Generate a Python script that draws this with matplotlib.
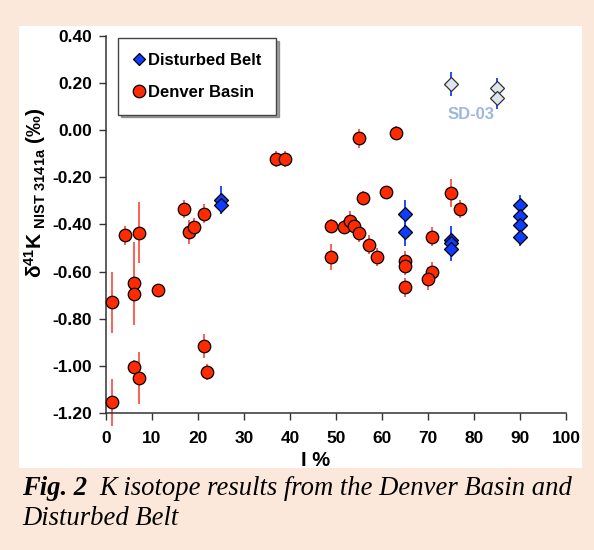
import numpy as np
import matplotlib
matplotlib.use("Agg")
import matplotlib.pyplot as plt

# ---- data ----
# Denver Basin samples: I %, d41K, 2sd
db_x = [1.2, 1.2, 4.1, 7.2, 6.1, 6.1, 11.2, 6.1, 7.2, 17.0, 18.1, 19.2, 21.2, 21.2, 22.0,
        37.0, 39.0, 48.9, 48.9, 51.7, 53.0, 54.0, 55.1, 57.1, 59.0, 55.0, 63.0, 55.9,
        60.9, 65.0, 65.0, 65.0, 70.9, 70.9, 69.9, 74.9, 77.0]
db_y = [-0.73, -1.155, -0.445, -0.435, -0.65, -0.695, -0.677, -1.003, -1.05, -0.334, -0.433,
        -0.412, -0.355, -0.915, -1.026, -0.122, -0.122, -0.405, -0.538, -0.412, -0.384,
        -0.405, -0.435, -0.486, -0.538, -0.034, -0.010, -0.286, -0.263, -0.554, -0.576,
        -0.667, -0.452, -0.600, -0.630, -0.265, -0.334]
db_err = [0.13, 0.10, 0.04, 0.13, 0.175, 0.04, 0.02, 0.03, 0.11, 0.04, 0.05, 0.04, 0.04,
          0.05, 0.035, 0.035, 0.035, 0.03, 0.055, 0.03, 0.04, 0.03, 0.04, 0.04, 0.04,
          0.04, 0.03, 0.03, 0.02, 0.04, 0.04, 0.04, 0.04, 0.04, 0.05, 0.06, 0.04]

# Disturbed Belt samples
dbelt_x = [25, 25, 65, 65, 75, 75, 75, 90, 90, 90, 90]
dbelt_y = [-0.296, -0.317, -0.356, -0.43, -0.466, -0.48, -0.505, -0.317, -0.364, -0.402, -0.452]
dbelt_err = [0.06, 0.04, 0.06, 0.06, 0.06, 0.05, 0.05, 0.04, 0.04, 0.04, 0.04]

# SD-03 (Disturbed Belt, shown open)
sd_x = [75, 85, 85]
sd_y = [0.195, 0.178, 0.135]
sd_err = [0.05, 0.045, 0.045]

x_ticks = list(range(0, 101, 10))
y_ticks = [0.40, 0.20, 0.00, -0.20, -0.40, -0.60, -0.80, -1.00, -1.20]

# ---- style ----
plt.rcParams['font.family'] = ['Liberation Sans', 'DejaVu Sans']
plt.rcParams['mathtext.fontset'] = 'custom'
plt.rcParams['mathtext.bf'] = 'Liberation Sans:bold'
plt.rcParams['mathtext.rm'] = 'Liberation Sans:bold'

peach = '#fce8da'
red = '#ff2a00'
red_bar = '#ff5544'
blue = '#0f3dff'

fig = plt.figure(figsize=(5.94, 5.5), dpi=100, facecolor=peach)

# white panel behind the chart
bg = fig.add_axes([0.032, 0.149, 0.948, 0.804], zorder=-5)
bg.set_facecolor('white')
bg.set_xticks([])
bg.set_yticks([])
for s in bg.spines.values():
    s.set_visible(False)

ax = fig.add_axes([0.1785, 0.2491, 0.7744, 0.6855])
ax.set_facecolor('none')

ax.errorbar(db_x, db_y, yerr=db_err, fmt='none', ecolor=red_bar, elinewidth=1.3,
            capsize=0, zorder=2, clip_on=False)
ax.plot(db_x, db_y, 'o', ms=9, mfc=red, mec='black', mew=0.9, ls='none',
        zorder=3, clip_on=False, label='Denver Basin')

ax.errorbar(dbelt_x, dbelt_y, yerr=dbelt_err, fmt='none', ecolor=blue, elinewidth=1.3,
            capsize=0, zorder=4)
ax.plot(dbelt_x, dbelt_y, 'D', ms=7.4, mfc=blue, mec='black', mew=0.9, ls='none',
        zorder=5, label='Disturbed Belt')

ax.errorbar(sd_x, sd_y, yerr=sd_err, fmt='none', ecolor=blue, elinewidth=1.3,
            capsize=0, zorder=4)
ax.plot(sd_x, sd_y, 'D', ms=7.4, mfc='#dde6ef', mec='#333333', mew=0.9, ls='none',
        zorder=5)
ax.text(79.3, 0.065, 'SD-03', color='#9db8dc', fontsize=12, fontweight='bold',
        ha='center', va='center')

ax.set_xlim(0, 100)
ax.set_ylim(-1.2, 0.4)
ax.set_xticks(x_ticks)
ax.set_yticks(y_ticks)
ax.set_yticklabels(['%.2f' % v for v in y_ticks])
ax.tick_params(direction='out', length=5, width=1, color='#333333',
               labelsize=12.5)
ax.tick_params(axis='x', pad=8)
ax.tick_params(axis='y', pad=5)
for lab in ax.get_xticklabels() + ax.get_yticklabels():
    lab.set_fontweight('bold')

for s in ['top', 'right']:
    ax.spines[s].set_visible(False)
for s in ['left', 'bottom']:
    ax.spines[s].set_color('#333333')
    ax.spines[s].set_linewidth(1.1)

ax.set_xlabel('I %', fontsize=14.5, fontweight='bold')
ax.xaxis.set_label_coords(0.4565, -0.100)
ax.set_ylabel(r'$\mathbf{\delta^{41}K}_{\ \mathbf{NIST\ 3141a}}$ $\mathbf{(‰)}$',
              fontsize=15)
ax.yaxis.set_label_coords(-0.126, 0.584)

handles, labels = ax.get_legend_handles_labels()
leg = ax.legend(handles[::-1], labels[::-1], loc='upper left',
                bbox_to_anchor=(0.026, 0.995), borderaxespad=0, fancybox=False,
                shadow=True, frameon=True, prop={'weight': 'bold', 'size': 12},
                handlelength=0.7, handletextpad=0.2, labelspacing=1.0,
                borderpad=0.9, numpoints=1)
leg.get_frame().set_edgecolor('#444444')
leg.get_frame().set_linewidth(1.0)
leg.legend_handles[0].set_markersize(6.3)

# caption
cap = dict(fontsize=19.2, family='Liberation Serif', style='italic')
t1 = fig.text(0.037, 0.089, 'Fig. 2', fontweight='bold', va='bottom', **cap)
fig.text(0.037, 0.034, 'Disturbed Belt', va='bottom', **cap)
ax.annotate('K isotope results from the Denver Basin and', xy=(1, 0), xycoords=t1,
            xytext=(9, 0), textcoords='offset points', va='bottom', ha='left',
            annotation_clip=False, **cap)

fig.savefig('out.png', dpi=100, facecolor=peach)
